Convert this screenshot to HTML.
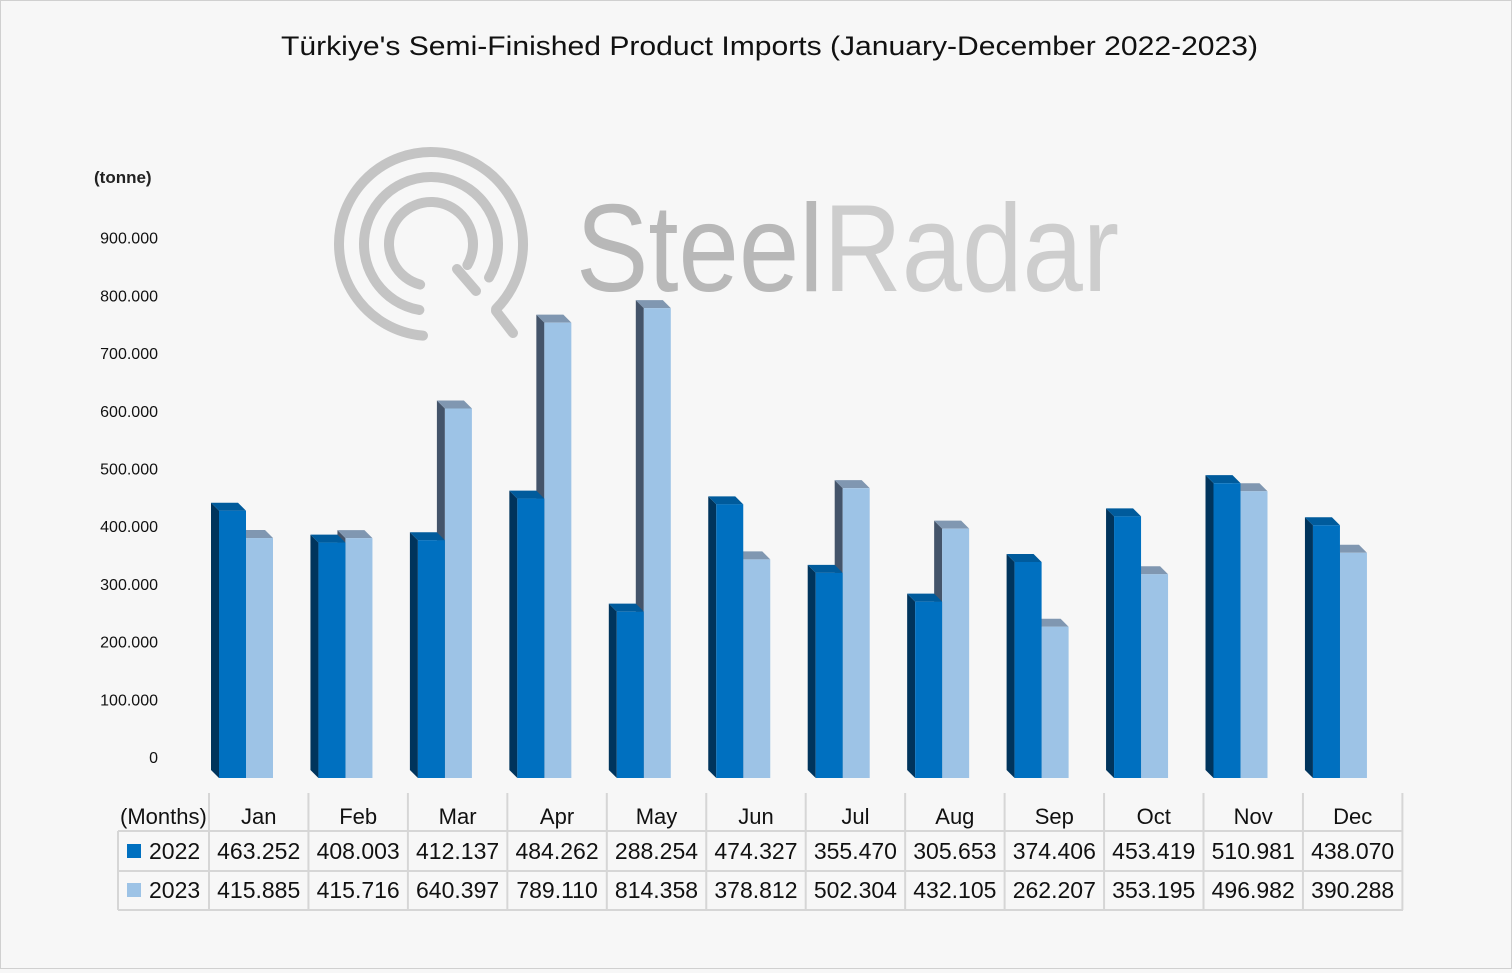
<!DOCTYPE html>
<html><head><meta charset="utf-8"><style>
html,body{margin:0;padding:0;background:#f7f7f7}
#wrap{position:relative;width:1510px;height:967px;border:1px solid #d0d0d0;background:#f7f7f7;font-family:"Liberation Sans",sans-serif}
</style></head><body>
<div id="wrap">
<svg id="chart" width="1510" height="967"></svg>
</div>
<script>
const months=["Jan","Feb","Mar","Apr","May","Jun","Jul","Aug","Sep","Oct","Nov","Dec"];
const values2022=[463.252,408.003,412.137,484.262,288.254,474.327,355.470,305.653,374.406,453.419,510.981,438.070];
const values2023=[415.885,415.716,640.397,789.110,814.358,378.812,502.304,432.105,262.207,353.195,496.982,390.288];
const labels2022=["463.252","408.003","412.137","484.262","288.254","474.327","355.470","305.653","374.406","453.419","510.981","438.070"];
const labels2023=["415.885","415.716","640.397","789.110","814.358","378.812","502.304","432.105","262.207","353.195","496.982","390.288"];
const yTicks=[0,100,200,300,400,500,600,700,800,900];
const yTickLabels=["0","100.000","200.000","300.000","400.000","500.000","600.000","700.000","800.000","900.000"];

const NS="http://www.w3.org/2000/svg";
const svg=document.getElementById('chart');
function mk(tag,attrs,parent){const e=document.createElementNS(NS,tag);for(const k in attrs)e.setAttribute(k,attrs[k]);(parent||svg).appendChild(e);return e;}
const base=777, scale=0.577, D=8;
const y=v=>base-v*scale;
const colX=i=>208+i*99.45;
const F="Liberation Sans, sans-serif";

let t=mk('text',{x:280,y:54,'font-size':27,fill:'#111','font-family':F,textLength:977,lengthAdjust:'spacingAndGlyphs'});
t.textContent="Türkiye's Semi-Finished Product Imports (January-December 2022-2023)";



const wm=mk('g',{});


function arc(r,a0,a1){const p=(a)=>[430+r*Math.cos(a*Math.PI/180),243+r*Math.sin(a*Math.PI/180)];const s=p(a0),e=p(a1);return `M${s[0]},${s[1]} A${r},${r} 0 1 1 ${e[0]},${e[1]}`;}
mk('path',{d:arc(92,95,45),fill:'none',stroke:'#c4c4c4','stroke-width':10,'stroke-linecap':'round'},wm);
mk('path',{d:arc(67,100,30),fill:'none',stroke:'#c4c4c4','stroke-width':10,'stroke-linecap':'round'},wm);
mk('path',{d:arc(42,105,30),fill:'none',stroke:'#c4c4c4','stroke-width':10,'stroke-linecap':'round'},wm);
mk('path',{d:'M456,268 L475,290 M495,310 L512,332',fill:'none',stroke:'#c4c4c4','stroke-width':10,'stroke-linecap':'round'},wm);
let w1=mk('text',{x:575,y:290,'font-size':124,'font-family':F,textLength:543,lengthAdjust:'spacingAndGlyphs'},wm);
let ts1=mk('tspan',{fill:'#b8b8b8'},w1);ts1.textContent="Steel";
let ts2=mk('tspan',{fill:'#cdcdcd'},w1);ts2.textContent="Radar";

let u=mk('text',{x:93,y:182,'font-size':17,'font-weight':'bold',fill:'#222','font-family':F});u.textContent="(tonne)";


yTicks.forEach((v,i)=>{const e=mk('text',{x:157,y:y(v)-15,'text-anchor':'end','font-size':16,fill:'#111','font-family':F});e.textContent=yTickLabels[i];

});

function bar(x,v,front,side,top,name){
  const g=mk('g',{});
  
  
  const yt=y(v),w=27;
  mk('polygon',{points:`${x},${yt} ${x-D},${yt-D} ${x-D},${base-D} ${x},${base}`,fill:side},g);
  mk('polygon',{points:`${x},${yt} ${x-D},${yt-D} ${x+w-D},${yt-D} ${x+w},${yt}`,fill:top},g);
  mk('rect',{x:x,y:yt,width:w,height:base-yt,fill:front},g);
}
months.forEach((m,i)=>{
  const cx=colX(i)+10;
  bar(cx+27,values2023[i],'#9dc3e6','#44546a','#8097b1','bar-2023-'+m.toLowerCase());
  bar(cx,values2022[i],'#0070c0','#00345c','#005b9c','bar-2022-'+m.toLowerCase());
});

const tb=mk('g',{});


const L='#d6d6d6';
mk('line',{x1:117,y1:830,x2:1402,y2:830,stroke:L,'stroke-width':2},tb);
mk('line',{x1:117,y1:870,x2:1402,y2:870,stroke:L,'stroke-width':2},tb);
mk('line',{x1:117,y1:909,x2:1402,y2:909,stroke:L,'stroke-width':2},tb);
mk('line',{x1:117,y1:830,x2:117,y2:909,stroke:L,'stroke-width':2},tb);
for(let i=0;i<=12;i++){mk('line',{x1:colX(i),y1:792,x2:colX(i),y2:909,stroke:L,'stroke-width':2},tb);}
let mh=mk('text',{x:119,y:823,'font-size':22,fill:'#111','font-family':F},tb);mh.textContent="(Months)";
mk('rect',{x:126,y:843,width:14,height:14,fill:'#0070c0'},tb);
mk('rect',{x:126,y:882,width:14,height:14,fill:'#9dc3e6'},tb);
let l1=mk('text',{x:148,y:858,'font-size':23,fill:'#111','font-family':F},tb);l1.textContent="2022";


let l2=mk('text',{x:148,y:897,'font-size':23,fill:'#111','font-family':F},tb);l2.textContent="2023";


months.forEach((m,i)=>{
  const cx=colX(i)+49.7;
  const a=mk('text',{x:cx,y:823,'text-anchor':'middle','font-size':22,fill:'#111','font-family':F},tb);a.textContent=m;
  
  
  const b=mk('text',{x:cx,y:858,'text-anchor':'middle','font-size':23,fill:'#111','font-family':F},tb);b.textContent=labels2022[i];
  
  
  const c=mk('text',{x:cx,y:897,'text-anchor':'middle','font-size':23,fill:'#111','font-family':F},tb);c.textContent=labels2023[i];
  
  
});
</script>
</body></html>
